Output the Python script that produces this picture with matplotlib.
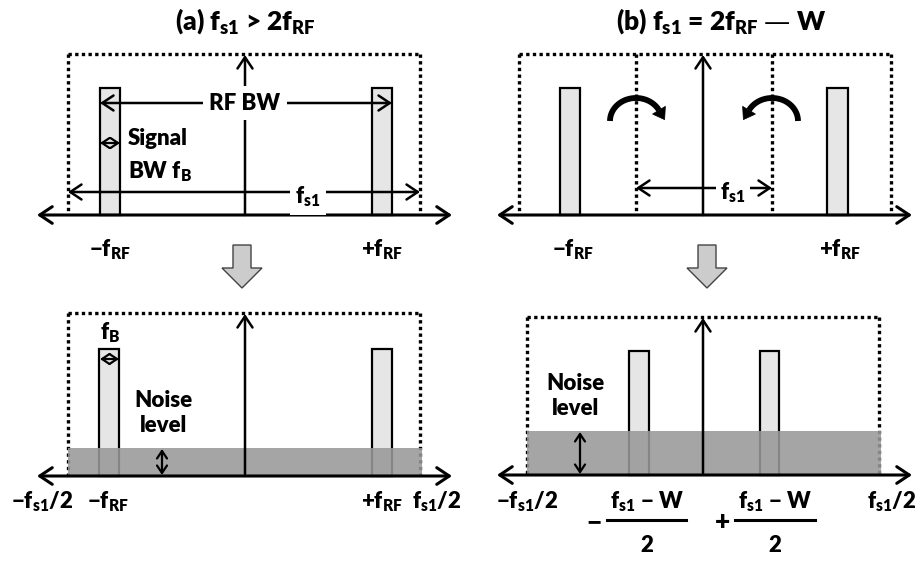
import numpy as np
import matplotlib.pyplot as plt
from matplotlib.patches import Rectangle, Polygon

plt.rcParams["font.family"] = ["Lato", "DejaVu Sans"]
plt.rcParams["font.weight"] = "heavy"

# ── Layout data (pixel units of the 921x561 canvas) ──────────────────────────

titles = [r"(a) $\mathregular{f_{s1}}$ > 2$\mathregular{f_{RF}}$",
          r"(b) $\mathregular{f_{s1}}$ = 2$\mathregular{f_{RF}}$ — W"]
title_x = [245, 721]

axis_y_top = 215
axis_y_bot = [476, 475]
axis_span = [(37, 452), (497, 912)]
center_x = [245, 703]

# top row: dotted Nyquist boxes (left, right, top)
box_top = [(68, 420, 54), (519, 891, 54)]
fold_lines_b = [636, 772]
fold_dir = [1, -1]          # left arc turns right, right arc turns left

# signal bars: (left, right, top) per panel
bars_top = [[(100, 120, 88), (372, 392, 88)],
            [(560, 580, 88), (827, 848, 88)]]
bars_bot = [[(99, 119, 349), (372, 392, 349)],
            [(629, 649, 351), (760, 779, 351)]]

# bottom row boxes and noise bands
box_bot = [(68, 420, 313), (527, 879, 317)]
noise_top = [448, 431]
noise_arrow_x = [162, 580]

top_labels = [(110, r"−$\mathregular{f_{RF}}$"), (382, r"+$\mathregular{f_{RF}}$"),
              (573, r"−$\mathregular{f_{RF}}$"), (840, r"+$\mathregular{f_{RF}}$")]
bot_labels = [(42, r"−$\mathregular{f_{s1}}$/2"), (108, r"−$\mathregular{f_{RF}}$"),
              (382, r"+$\mathregular{f_{RF}}$"), (437, r"$\mathregular{f_{s1}}$/2"),
              (527, r"−$\mathregular{f_{s1}}$/2"), (892, r"$\mathregular{f_{s1}}$/2")]

BAR_FILL = "#e6e6e6"
NOISE = "#999999"
FS = 16

fig = plt.figure(figsize=(9.21, 5.61), dpi=100)
ax = fig.add_axes([0, 0, 1, 1])
ax.set_xlim(0, 921)
ax.set_ylim(561, 0)
ax.axis("off")

DOT = dict(color="black", lw=2.4, ls=(0, (1, 1)))


def arrow(x0, y0, x1, y1, style="<->", scale=18, lw=1.8, z=5):
    ax.annotate("", xy=(x1, y1), xytext=(x0, y0),
                arrowprops=dict(arrowstyle=f"{style},head_length=0.45,head_width=0.3",
                                mutation_scale=scale, lw=lw, color="black",
                                shrinkA=0, shrinkB=0), zorder=z)


def draw_bar(l, r, top, base):
    ax.add_patch(Rectangle((l, top), r - l, base - top, facecolor=BAR_FILL,
                           edgecolor="black", lw=1.6, zorder=3))


def block_arrow(cx, y0):
    pts = [(cx - 9, y0), (cx + 9, y0), (cx + 9, y0 + 23), (cx + 20, y0 + 23),
           (cx, y0 + 43), (cx - 20, y0 + 23), (cx - 9, y0 + 23)]
    ax.add_patch(Polygon(pts, closed=True, facecolor="#cccccc",
                         edgecolor="#444444", lw=1.0, zorder=3))


def fold_arrow(cx, d, cy=121, rx=26, ry=23):
    th = np.linspace(np.pi, np.deg2rad(28), 40)
    xs = cx + d * rx * np.cos(th)
    ys = cy - ry * np.sin(th)
    ax.plot(xs, ys, color="black", lw=4.2, solid_capstyle="butt", zorder=6)
    t_end = th[-1]
    tx, ty = d * rx * np.sin(t_end), ry * np.cos(t_end)
    n = np.hypot(tx, ty)
    tx, ty = tx / n, ty / n
    ex, ey = xs[-1], ys[-1]
    px, py = -ty, tx
    head = [(ex + 11 * tx, ey + 11 * ty), (ex + 7.5 * px, ey + 7.5 * py),
            (ex - 7.5 * px, ey - 7.5 * py)]
    ax.add_patch(Polygon(head, closed=True, facecolor="black",
                         edgecolor="black", lw=0.5, zorder=6))


TXT = dict(fontsize=FS, fontweight="heavy", ha="center", va="center", zorder=8)

# titles
for x, t in zip(title_x, titles):
    ax.text(x, 21, t, fontsize=19, fontweight="heavy", ha="center", va="center")

# ── top row ──
for i in range(2):
    l, r, t = box_top[i]
    ax.plot([l, r], [t, t], **DOT, zorder=2)
    ax.plot([l, l], [t, axis_y_top], **DOT, zorder=2)
    ax.plot([r, r], [t, axis_y_top], **DOT, zorder=2)
    for bl, br, bt in bars_top[i]:
        draw_bar(bl, br, bt, axis_y_top)
    a0, a1 = axis_span[i]
    arrow(a0, axis_y_top, a1, axis_y_top, scale=20, lw=2.2)
    arrow(center_x[i], axis_y_top, center_x[i], t + 1, style="->", z=4)

for x, d in zip(fold_lines_b, fold_dir):
    ax.plot([x, x], [box_top[1][2], axis_y_top], **DOT, zorder=2)
    fold_arrow(x, d)

# panel (a) top annotations
arrow(100, 103, 392, 103)
ax.text(245, 103, "RF BW", **TXT,
        bbox=dict(facecolor="white", edgecolor="none", pad=5))
arrow(100, 143, 120, 143, scale=12, lw=1.6)
ax.text(128, 138, "Signal", fontsize=FS, fontweight="heavy", ha="left", va="center")
ax.text(128, 172, r"BW $\mathregular{f_B}$", fontsize=FS, fontweight="heavy",
        ha="left", va="center")
arrow(68, 192, 420, 192)
ax.text(308, 197, r"$\mathregular{f_{s1}}$", **TXT,
        bbox=dict(facecolor="white", edgecolor="none", pad=4))

# panel (b) top annotations
arrow(636, 188, 772, 188)
ax.text(733, 193, r"$\mathregular{f_{s1}}$", **TXT,
        bbox=dict(facecolor="white", edgecolor="none", pad=3))

for x, s in top_labels:
    ax.text(x, 250, s, **TXT)

for cx in [242, 707]:
    block_arrow(cx, 245)

# ── bottom row ──
for i in range(2):
    l, r, t = box_bot[i]
    yb = axis_y_bot[i]
    ax.plot([l, r], [t, t], **DOT, zorder=2)
    ax.plot([l, l], [t, yb], **DOT, zorder=2)
    ax.plot([r, r], [t, yb], **DOT, zorder=2)
    for bl, br, bt in bars_bot[i]:
        draw_bar(bl, br, bt, yb)
    ax.add_patch(Rectangle((l, noise_top[i]), r - l + 2, yb - noise_top[i],
                           facecolor=NOISE, edgecolor="none", alpha=0.88, zorder=4))
    a0, a1 = axis_span[i]
    arrow(a0, yb, a1, yb, scale=20, lw=2.2, z=6)
    arrow(center_x[i], yb - 2, center_x[i], t + 1, style="->", z=6)
    nx = noise_arrow_x[i]
    arrow(nx, noise_top[i] + 1, nx, yb - 1, scale=12, lw=1.6, z=7)

# f_B marker (a)
arrow(100, 359, 119, 359, scale=12, lw=1.6)
ax.text(110, 333, r"$\mathregular{f_B}$", **TXT)

ax.text(163, 413, "Noise\nlevel", linespacing=1.25, **TXT)
ax.text(575, 396, "Noise\nlevel", linespacing=1.25, **TXT)

for x, s in bot_labels:
    ax.text(x, 502, s, **TXT)

# folded image frequencies (b)
for sign, xs, xl, xr in [("−", 594, 607, 686), ("+", 722, 735, 815)]:
    cx = (xl + xr) / 2
    ax.text(xs, 522, sign, fontsize=19, fontweight="heavy", ha="center", va="center")
    ax.text(cx, 502, r"$\mathregular{f_{s1}}$ − W", **TXT)
    ax.plot([xl, xr], [520, 520], color="black", lw=2.2)
    ax.text(cx, 545, "2", **TXT)

fig.savefig("out.png", dpi=100)
